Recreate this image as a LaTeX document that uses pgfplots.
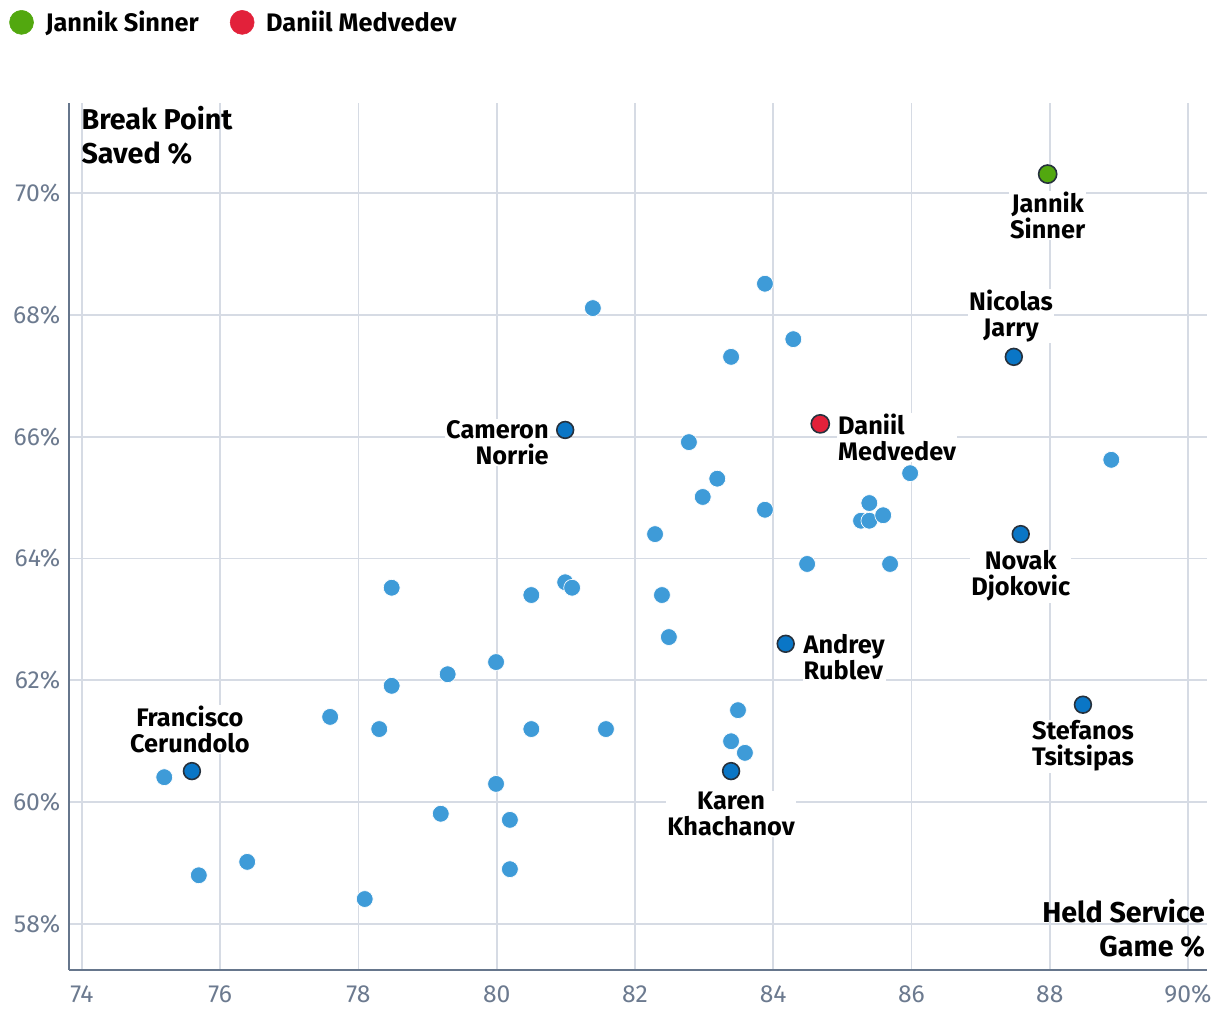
\documentclass[border=0pt]{standalone}
\usepackage{pgfplots}
\pgfplotsset{compat=1.18}
\usepackage{fontspec}
\setmainfont{Fira Sans}
\definecolor{dotlight}{HTML}{3E9BD8}
\definecolor{dotdark}{HTML}{0A76C6}
\definecolor{dotedge}{HTML}{26313D}
\definecolor{sinner}{HTML}{52A80F}
\definecolor{medv}{HTML}{E2213A}
\definecolor{gridc}{HTML}{D6DBE4}
\definecolor{axisc}{HTML}{66768C}
\definecolor{tickc}{HTML}{6C7A8F}
\begin{document}
\begin{tikzpicture}
\begin{axis}[
    scale only axis,
    width=853.5pt, height=650.25pt,
    xmin=73.812, xmax=90.275,
    ymin=57.245, ymax=71.477,
    axis x line*=bottom, axis y line*=left,
    axis line style={axisc, line width=1.5pt},
    x axis line style={-}, y axis line style={-},
    xtick={74,76,...,90},
    xticklabels={74,76,78,80,82,84,86,88,90\%},
    ytick={58,60,...,70},
    yticklabel={\pgfmathprintnumber{\tick}\%},
    /pgf/number format/assume math mode=true,
    tick label style={font=\fontsize{18.5}{20}\selectfont, text=tickc},
    xticklabel style={yshift=-8pt},
    yticklabel style={xshift=-3pt},
    major tick length=0pt,
    grid=major,
    major grid style={gridc, line width=1.4pt},
    legend columns=2,
    legend style={at={(axis description cs:-0.056,1.093)}, anchor=west,
        draw=none, fill=none, font=\bfseries\fontsize{19}{22}\selectfont,
        /tikz/every odd column/.append style={column sep=7pt},
        /tikz/every even column/.append style={column sep=21.5pt}},
    legend cell align=left,
    legend image post style={mark size=9pt, mark options={draw=none}},
]
% ordinary players
\addplot[only marks, mark=*, mark size=6.3pt,
    mark options={fill=dotlight, draw=white, line width=0.5pt}, forget plot] coordinates {
(81.39,68.11) (83.88,68.51) (84.29,67.60) (83.39,67.31) (82.78,65.91)
(83.19,65.31) (82.98,65.01) (83.88,64.80) (82.29,64.40) (85.98,65.40)
(88.89,65.62) (85.39,64.91) (85.27,64.62) (85.39,64.62) (85.59,64.71)
(84.49,63.91) (85.69,63.91) (78.48,63.52) (80.99,63.61) (81.09,63.52)
(80.50,63.40) (82.39,63.40) (82.49,62.71) (79.99,62.30) (79.29,62.10)
(78.48,61.91) (77.59,61.40) (78.30,61.20) (80.50,61.20) (81.58,61.20)
(83.49,61.51) (83.39,61.00) (83.59,60.81) (75.19,60.41) (79.99,60.30)
(79.19,59.81) (80.19,59.71) (76.39,59.02) (75.69,58.80) (80.19,58.90)
(78.09,58.41)
};
% labelled players
\addplot[only marks, mark=*, mark size=6.3pt,
    mark options={fill=dotdark, draw=dotedge, line width=1.2pt}, forget plot] coordinates {
(87.48,67.31) (80.99,66.11) (87.58,64.40) (84.18,62.60)
(88.48,61.60) (75.59,60.51) (83.39,60.51)
};
\addplot[only marks, mark=*, mark size=6.8pt, sinner,
    mark options={fill=sinner, draw=dotedge, line width=1.2pt}] coordinates {(87.97,70.31)};
\addlegendentry{Jannik Sinner}
\addplot[only marks, mark=*, mark size=6.8pt, medv,
    mark options={fill=medv, draw=dotedge, line width=1.2pt}] coordinates {(84.68,66.21)};
\addlegendentry{Daniil Medvedev}

\begin{scope}[every node/.style={font=\bfseries\fontsize{19}{19.5}\selectfont,
    fill=white, inner sep=0.8pt}]
\node[align=center] at (axis cs:87.97,69.63) {Jannik\\Sinner};
\node[align=center] at (axis cs:87.44,67.98) {Nicolas\\Jarry};
\node[align=right, anchor=east] at (axis cs:80.77,65.90) {Cameron\\Norrie};
\node[align=left, anchor=west] at (axis cs:84.92,65.99) {Daniil\\Medvedev};
\node[align=center] at (axis cs:87.58,63.71) {Novak\\Djokovic};
\node[align=left, anchor=west] at (axis cs:84.42,62.38) {Andrey\\Rublev};
\node[align=center] at (axis cs:88.48,60.92) {Stefanos\\Tsitsipas};
\node[align=center] at (axis cs:75.56,61.19) {Francisco\\Cerundolo};
\node[align=center] at (axis cs:83.39,59.81) {Karen\\Khachanov};
\end{scope}
\node[font=\bfseries\fontsize{21.5}{25.5}\selectfont, align=left, anchor=west, inner sep=0pt]
    at (axis cs:73.99,70.94) {Break Point\\Saved \%};
\node[font=\bfseries\fontsize{21.5}{25.5}\selectfont, align=right, anchor=east, inner sep=0pt]
    at (axis cs:90.25,57.935) {Held Service\\Game \%};
\end{axis}
\pgfresetboundingbox
\path[use as bounding box] (-51.75pt,-39pt) rectangle (863.25pt,727.5pt);
\end{tikzpicture}
\end{document}
